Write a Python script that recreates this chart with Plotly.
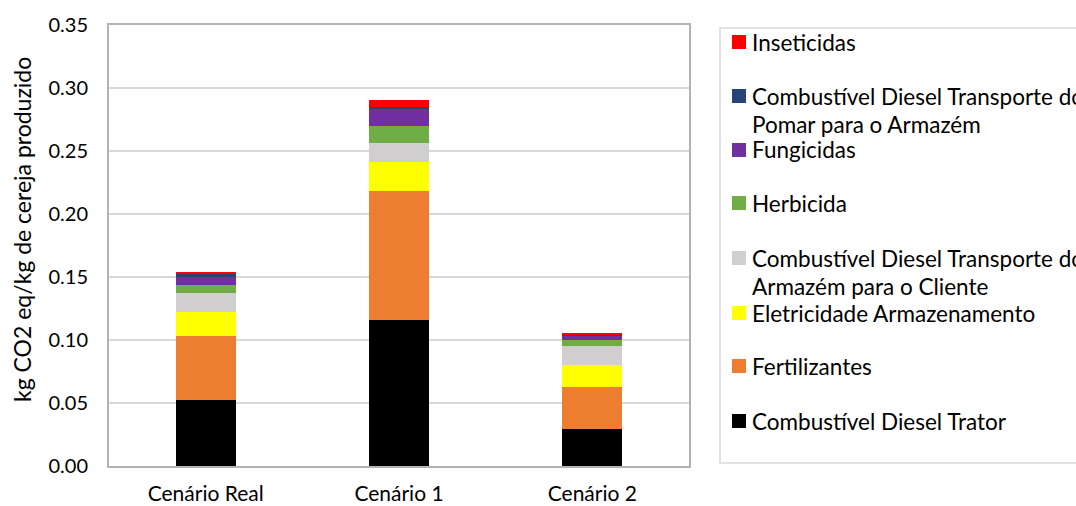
import plotly.graph_objects as go

# ---- data ----
categories = ["Cenário Real", "Cenário 1", "Cenário 2"]

series_names = [
    "Combustível Diesel Trator",
    "Fertilizantes",
    "Eletricidade Armazenamento",
    "Combustível Diesel Transporte do<br>Armazém para o Cliente",
    "Herbicida",
    "Fungicidas",
    "Combustível Diesel Transporte do<br>Pomar para o Armazém",
    "Inseticidas",
]
diesel_trator = [0.052, 0.116, 0.029]
fertilizantes = [0.051, 0.102, 0.034]
eletricidade = [0.019, 0.023, 0.017]
transporte_cliente = [0.015, 0.015, 0.015]
herbicida = [0.007, 0.014, 0.005]
fungicidas = [0.0064, 0.014, 0.0032]
transporte_armazem = [0.0016, 0.0013, 0.0013]
inseticidas = [0.0016, 0.0053, 0.0003]
series_values = [diesel_trator, fertilizantes, eletricidade, transporte_cliente,
                 herbicida, fungicidas, transporte_armazem, inseticidas]
colors = ["#000000", "#ED7D31", "#FFFF00", "#D0CECE",
          "#70AD47", "#7030A0", "#264478", "#FF0000"]

y_title = "kg CO2 eq/kg de cereja produzido"
y_ticks = [0.0, 0.05, 0.10, 0.15, 0.20, 0.25, 0.30, 0.35]

FONT = "Lato"
W, H = 1076, 506
# plot frame in window pixels
L, R, T, B = 109, 689, 25, 466

fig = go.Figure()
for name, vals, col in zip(series_names, series_values, colors):
    fig.add_trace(go.Bar(x=categories, y=vals, name=name, marker_color=col,
                         marker_line_width=0, width=0.31, showlegend=False))

fig.update_layout(
    width=W, height=H, barmode="stack",
    margin=dict(l=L, r=W - R, t=T, b=H - B, pad=0, autoexpand=False),
    paper_bgcolor="white", plot_bgcolor="white",
    font=dict(family=FONT, size=20, color="#000000"),
)
fig.update_yaxes(range=[0, 0.35], tickvals=y_ticks, tickformat=".2f",
                 showgrid=True, gridcolor="#D9D9D9", gridwidth=1.5,
                 showline=True, linecolor="#B3B3B3", linewidth=2, mirror=True,
                 zeroline=False, ticks="", ticklabelstandoff=15, automargin=False,
                 tickfont=dict(size=20))
fig.update_xaxes(showline=True, linecolor="#B3B3B3", linewidth=2, mirror=True,
                 ticks="", ticklabelstandoff=8, tickfont=dict(size=21),
                 automargin=False)

# ---- helpers: window pixel -> paper ----
def px(xp):
    return (xp - L) / (R - L)

def py(yp):
    return (B - yp) / (B - T)

# y-axis title
fig.add_annotation(xref="paper", yref="paper", x=px(22), y=py(230), text=y_title,
                   textangle=-90, showarrow=False, xanchor="center", yanchor="middle",
                   font=dict(family=FONT, size=23, color="#000000"))

# ---- manual legend (Excel-style) ----
fig.add_shape(type="rect", xref="paper", yref="paper",
              x0=px(720), x1=px(1090), y0=py(463), y1=py(28),
              line=dict(color="#D9D9D9", width=1.5), fillcolor="white", layer="below")

legend_rows = [42, 96, 150, 203, 258, 313, 366, 421]  # top to bottom
line_gap = 29
for (name, col), yrow in zip(reversed(list(zip(series_names, colors))), legend_rows):
    fig.add_shape(type="rect", xref="paper", yref="paper",
                  x0=px(732), x1=px(746), y0=py(yrow + 7), y1=py(yrow - 7),
                  line=dict(width=0), fillcolor=col)
    for i, part in enumerate(name.split("<br>")):
        fig.add_annotation(xref="paper", yref="paper", x=px(750), y=py(yrow + i * line_gap),
                           text=part, showarrow=False, xanchor="left", yanchor="middle",
                           font=dict(family=FONT, size=22.5, color="#000000"))

fig.write_html("out.html", config={"displayModeBar": False},
               post_script="document.body.style.margin='0';document.body.style.overflow='hidden';")
